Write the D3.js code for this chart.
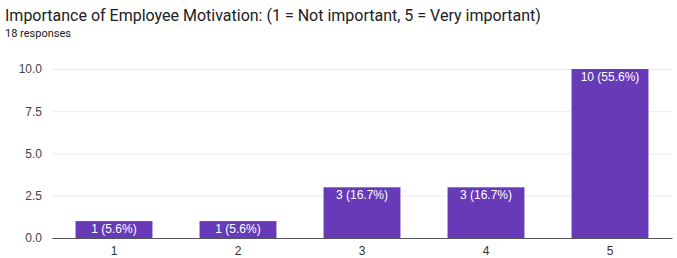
<!DOCTYPE html>
<html>
<head>
<meta charset="utf-8">
<script src="https://cdn.jsdelivr.net/npm/d3@7"></script>
<style>
  html, body { margin: 0; padding: 0; background: #fff; }
  svg { display: block; }
</style>
</head>
<body>
<div class="chart"></div>
<script>
// ----------------------------------
// DATA
// ----------------------------------
const categories = ['1', '2', '3', '4', '5'];
const counts = [1, 1, 3, 3, 10];
const percents = ['5.6%', '5.6%', '16.7%', '16.7%', '55.6%'];
const yTicks = [0, 2.5, 5, 7.5, 10];
const title = 'Importance of Employee Motivation: (1 = Not important, 5 = Very important)';
const subtitle = '18 responses';

const data = categories.map((c, i) => ({ cat: c, value: counts[i], pct: percents[i] }));

const width = 677, height = 258;
const margin = { top: 69, right: 5, bottom: 20, left: 52 };
const innerWidth = width - margin.left - margin.right,
      innerHeight = height - margin.top - margin.bottom;

const svg = d3.select('.chart').append('svg')
    .attr('width', width)
    .attr('height', height);

// Title + subtitle
svg.append('text')
    .text(title)
    .attr('x', 5).attr('y', 21)
    .style('font-family', 'Roboto, sans-serif')
    .style('font-size', '16px')
    .style('fill', '#202124');

svg.append('text')
    .text(subtitle)
    .attr('x', 5).attr('y', 37)
    .style('font-family', 'Roboto, sans-serif')
    .style('font-size', '11px')
    .style('fill', '#202124');

// Scales
const yScale = d3.scaleLinear().domain([0, 10]).range([innerHeight, 0]);
const xScale = d3.scaleBand().domain(categories).range([0, innerWidth]).paddingInner(0.38).paddingOuter(0.19);

const chartInner = svg.append('g')
    .attr('transform', `translate(${margin.left},${margin.top})`);

// Gridlines
const yAxis = d3.axisLeft(yScale).tickValues(yTicks).tickFormat(d3.format('.1f')).tickSize(-innerWidth).tickPadding(10);
const yG = chartInner.append('g').attr('class', 'y axis').call(yAxis);
yG.select('.domain').remove();
yG.selectAll('.tick line').attr('stroke', '#ebebeb');
yG.selectAll('.tick text')
    .style('font-family', 'Arial, "Liberation Sans", sans-serif')
    .style('font-size', '12px')
    .style('fill', '#444');

// Bars
chartInner.selectAll('.bar')
    .data(data)
    .enter().append('rect')
    .attr('class', 'bar')
    .attr('x', d => xScale(d.cat))
    .attr('y', d => yScale(d.value))
    .attr('width', xScale.bandwidth())
    .attr('height', d => yScale(0) - yScale(d.value))
    .style('fill', '#673ab7');

// Bar labels
chartInner.selectAll('.bar-label')
    .data(data)
    .enter().append('text')
    .attr('class', 'bar-label')
    .attr('x', d => xScale(d.cat) + xScale.bandwidth() / 2)
    .attr('y', d => yScale(d.value) + 12)
    .attr('text-anchor', 'middle')
    .text(d => `${d.value} (${d.pct})`)
    .style('font-family', 'Arial, "Liberation Sans", sans-serif')
    .style('font-size', '12px')
    .style('fill', '#fff');

// X axis
const xAxis = d3.axisBottom(xScale).tickSize(0).tickPadding(8);
const xG = chartInner.append('g').attr('class', 'x axis')
    .attr('transform', `translate(0,${innerHeight})`)
    .call(xAxis);
xG.select('.domain').attr('stroke', '#555').attr('stroke-width', 1.2);
xG.selectAll('.tick text')
    .style('font-family', 'Arial, "Liberation Sans", sans-serif')
    .style('font-size', '12px')
    .style('fill', '#333');
</script>
</body>
</html>
